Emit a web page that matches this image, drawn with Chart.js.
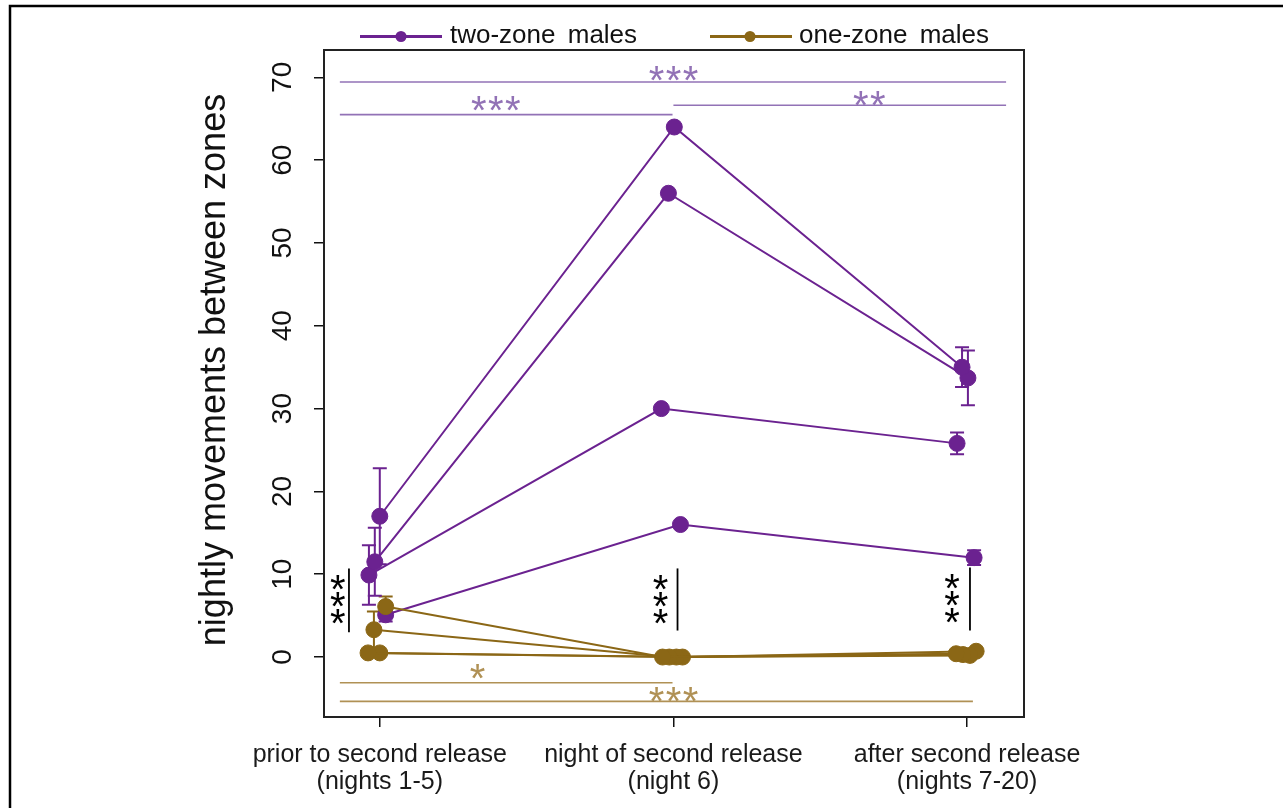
<!DOCTYPE html>
<html>
<head>
<meta charset="utf-8">
<script src="https://cdn.jsdelivr.net/npm/chart.js@4.4.0/dist/chart.umd.min.js"></script>
<style>
  html, body { margin: 0; padding: 0; background: #fff; }
  canvas { display: block; }
</style>
</head>
<body>
<canvas id="chart" width="1283" height="808"></canvas>
<script>
// ---- data -------------------------------------------------------------
const periods = [
  ["prior to second release", "(nights 1-5)"],
  ["night of second release", "(night 6)"],
  ["after second release", "(nights 7-20)"]
];
const yTicks = [0, 10, 20, 30, 40, 50, 60, 70];
const yTitle = "nightly movements between zones";
const groupNames = ["two-zone males", "one-zone males"];

// mean nightly movements per male for the three periods
const twoZoneMales = [
  [17.0, 64.0, 35.0],
  [11.5, 56.0, 33.7],
  [9.9, 30.0, 25.8],
  [5.1, 16.0, 12.0]
];
const twoZoneErr = [
  [5.8, 0, 2.4],
  [4.1, 0, 3.3],
  [3.6, 0, 1.3],
  [0.8, 0, 0.9]
];
const oneZoneMales = [
  [6.1, 0.0, 0.4],
  [3.3, 0.0, 0.3],
  [0.5, 0.0, 0.2],
  [0.5, 0.0, 0.7]
];
const oneZoneErr = [
  [1.2, 0, 0.2],
  [2.2, 0, 0.2],
  [0.2, 0, 0.1],
  [0.2, 0, 0.2]
];
// small horizontal jitter so the males do not sit on top of each other
const twoZoneJitter = [
  [0.000, 0.003, -0.017],
  [-0.017, -0.017, 0.003],
  [-0.037, -0.041, -0.034],
  [0.020, 0.024, 0.024]
];
const oneZoneJitter = [
  [0.020, -0.037, -0.037],
  [-0.020, -0.014, -0.014],
  [-0.040, 0.010, 0.010],
  [0.000, 0.031, 0.031]
];

// significance brackets between periods (x in period units, y in movements)
const twoZoneSig = [
  { from: -0.136, to: 2.133, y: 69.43, stars: "***", at: 1.0, starY: 70.57 },
  { from: -0.136, to: 0.997, y: 65.5, stars: "***", at: 0.395, starY: 66.9 },
  { from: 1.0, to: 2.133, y: 66.62, stars: "**", at: 1.667, starY: 67.54 }
];
const oneZoneSig = [
  { from: -0.136, to: 0.997, y: -3.1, stars: "*", at: 0.333, starY: -1.7 },
  { from: -0.136, to: 2.02, y: -5.35, stars: "***", at: 1.0, starY: -4.4 }
];
// two-zone vs one-zone within each period
const groupSig = [
  { x: -0.105, from: 3.0, to: 10.7, stars: "***", at: -0.143, starY: 7.0 },
  { x: 1.014, from: 3.2, to: 10.7, stars: "***", at: 0.956, starY: 7.0 },
  { x: 2.010, from: 3.2, to: 10.8, stars: "***", at: 1.949, starY: 7.1 }
];

// ---- styles -----------------------------------------------------------
const PURPLE = "#6b2290";
const GOLD = "#8b6716";
const PURPLE_SIG = "#9272b6";
const GOLD_SIG = "#b09155";
const FONT = '"Liberation Sans", Arial, sans-serif';

function makeSets(values, errs, jitter, color) {
  return values.map((row, i) => ({
    data: row.map((v, p) => ({ x: p + jitter[i][p], y: v })),
    err: errs[i],
    borderColor: color,
    backgroundColor: color,
    pointBackgroundColor: color,
    pointBorderColor: color,
    pointRadius: 8,
    pointBorderWidth: 1,
    borderWidth: 2,
    showLine: true,
    tension: 0
  }));
}

const datasets = [
  ...makeSets(oneZoneMales, oneZoneErr, oneZoneJitter, GOLD),
  ...makeSets(twoZoneMales, twoZoneErr, twoZoneJitter, PURPLE)
];

function drawStars(ctx, text, cx, cy, color, vertical) {
  const size = 40, pitch = 17;
  ctx.save();
  ctx.fillStyle = color;
  ctx.font = size + "px " + FONT;
  ctx.textAlign = "center";
  ctx.textBaseline = "alphabetic";
  const n = text.length;
  for (let k = 0; k < n; k++) {
    const off = (k - (n - 1) / 2) * pitch;
    const x = vertical ? cx : cx + off;
    const y = vertical ? cy + off : cy;
    ctx.fillText(text[k], x, y + size * 0.53);
  }
  ctx.restore();
}

const decorations = {
  id: "decorations",
  beforeDatasetsDraw(chart) {
    const { ctx } = chart;
    const xs = chart.scales.x, ys = chart.scales.y;
    // error bars
    chart.data.datasets.forEach(ds => {
      ds.data.forEach((pt, p) => {
        const e = ds.err[p];
        if (!e) return;
        const px = xs.getPixelForValue(pt.x);
        const top = ys.getPixelForValue(pt.y + e);
        const bot = ys.getPixelForValue(pt.y - e);
        ctx.save();
        ctx.strokeStyle = ds.borderColor;
        ctx.lineWidth = 2;
        ctx.beginPath();
        ctx.moveTo(px, top); ctx.lineTo(px, bot);
        ctx.moveTo(px - 7, top); ctx.lineTo(px + 7, top);
        ctx.moveTo(px - 7, bot); ctx.lineTo(px + 7, bot);
        ctx.stroke();
        ctx.restore();
      });
    });
  },
  afterDraw(chart) {
    const { ctx, chartArea: a } = chart;
    const xs = chart.scales.x, ys = chart.scales.y;

    // outer frame
    ctx.save();
    ctx.strokeStyle = "#000";
    ctx.lineWidth = 2.5;
    ctx.strokeRect(10, 6, 1300, 840);
    ctx.restore();

    // plot box
    ctx.save();
    ctx.strokeStyle = "#222";
    ctx.lineWidth = 2;
    ctx.strokeRect(a.left, a.top, a.right - a.left, a.bottom - a.top);
    ctx.restore();

    // y tick labels, rotated
    ctx.save();
    ctx.fillStyle = "#111";
    ctx.font = "28px " + FONT;
    ctx.textAlign = "center";
    ctx.textBaseline = "alphabetic";
    ys.ticks.forEach(t => {
      const py = ys.getPixelForValue(t.value);
      ctx.save();
      ctx.translate(a.left - 33, py);
      ctx.rotate(-Math.PI / 2);
      ctx.fillText(String(t.value), 0, 0);
      ctx.restore();
    });
    ctx.restore();

    // y axis title
    ctx.save();
    ctx.fillStyle = "#111";
    ctx.font = "36px " + FONT;
    ctx.textAlign = "center";
    ctx.textBaseline = "alphabetic";
    ctx.translate(a.left - 99, 370);
    ctx.rotate(-Math.PI / 2);
    ctx.fillText(yTitle, 0, 0);
    ctx.restore();

    // significance brackets
    const bracket = (list, lineColor, starColor) => {
      list.forEach(s => {
        const py = ys.getPixelForValue(s.y);
        ctx.save();
        ctx.strokeStyle = lineColor;
        ctx.lineWidth = 1.6;
        ctx.beginPath();
        ctx.moveTo(xs.getPixelForValue(s.from), py);
        ctx.lineTo(xs.getPixelForValue(s.to), py);
        ctx.stroke();
        ctx.restore();
        drawStars(ctx, s.stars, xs.getPixelForValue(s.at), ys.getPixelForValue(s.starY), starColor, false);
      });
    };
    bracket(twoZoneSig, PURPLE_SIG, PURPLE_SIG);
    bracket(oneZoneSig, GOLD_SIG, GOLD_SIG);

    groupSig.forEach(s => {
      const px = xs.getPixelForValue(s.x);
      ctx.save();
      ctx.strokeStyle = "#000";
      ctx.lineWidth = 1.8;
      ctx.beginPath();
      ctx.moveTo(px, ys.getPixelForValue(s.to));
      ctx.lineTo(px, ys.getPixelForValue(s.from));
      ctx.stroke();
      ctx.restore();
      drawStars(ctx, s.stars, xs.getPixelForValue(s.at), ys.getPixelForValue(s.starY), "#000", true);
    });

    // legend above the plot box
    const legendItems = [
      { name: groupNames[0], color: PURPLE, x0: a.left + 36, x1: a.left + 118, dot: a.left + 77, tx: a.left + 126 },
      { name: groupNames[1], color: GOLD, x0: a.left + 386, x1: a.left + 468, dot: a.left + 426, tx: a.left + 475 }
    ];
    const ly = a.top - 13.5;
    legendItems.forEach(it => {
      ctx.save();
      ctx.strokeStyle = it.color;
      ctx.fillStyle = it.color;
      ctx.lineWidth = 3;
      ctx.beginPath();
      ctx.moveTo(it.x0, ly); ctx.lineTo(it.x1, ly);
      ctx.stroke();
      ctx.beginPath();
      ctx.arc(it.dot, ly, 5.5, 0, Math.PI * 2);
      ctx.fill();
      ctx.fillStyle = "#111";
      ctx.font = "26px " + FONT;
      ctx.wordSpacing = "5px";
      ctx.textAlign = "left";
      ctx.textBaseline = "alphabetic";
      ctx.fillText(it.name, it.tx, a.top - 7.5);
      ctx.restore();
    });
  }
};

new Chart(document.getElementById("chart"), {
  type: "scatter",
  data: { datasets },
  plugins: [decorations],
  options: {
    responsive: false,
    animation: false,
    devicePixelRatio: 1,
    layout: { padding: { top: 50, right: 259, left: 0, bottom: 0 } },
    plugins: { legend: { display: false }, tooltip: { enabled: false } },
    scales: {
      x: {
        type: "linear",
        min: -0.19,
        max: 2.194,
        afterBuildTicks: s => { s.ticks = periods.map((_, i) => ({ value: i })); },
        afterFit: s => { s.height = 91; },
        ticks: {
          autoSkip: false,
          maxRotation: 0,
          minRotation: 0,
          padding: 14,
          color: "#1a1a1a",
          font: { family: FONT, size: 25, lineHeight: 1.1 },
          callback: v => periods[v]
        },
        grid: { display: true, drawOnChartArea: false, drawTicks: true, tickLength: 10, color: "#111", lineWidth: 1.5 },
        border: { display: false }
      },
      y: {
        type: "linear",
        min: -7.24,
        max: 73.3,
        afterBuildTicks: s => { s.ticks = yTicks.map(v => ({ value: v })); },
        afterFit: s => { s.width = 324; },
        ticks: { display: false },
        grid: { display: true, drawOnChartArea: false, drawTicks: true, tickLength: 10, color: "#111", lineWidth: 1.5 },
        border: { display: false }
      }
    }
  }
});
</script>
</body>
</html>
